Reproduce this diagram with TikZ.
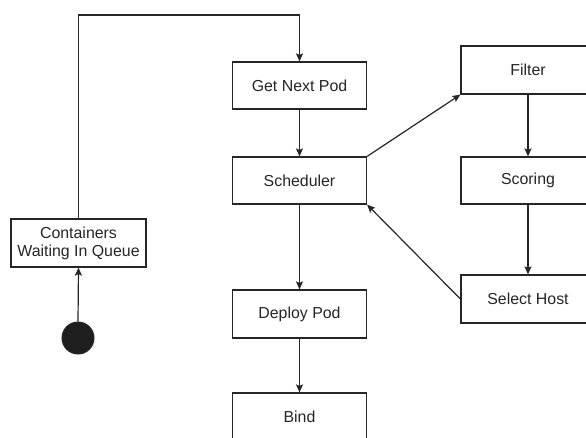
\documentclass[tikz,border=0pt]{standalone}
\usepackage{fontspec}
\setmainfont{Liberation Sans}
\usetikzlibrary{arrows.meta}
\definecolor{ink}{RGB}{38,38,38}
\definecolor{dot}{RGB}{30,30,30}
\begin{document}
\begin{tikzpicture}[x=1pt,y=-1pt,
  stepbox/.style={draw=ink,line width=1.2pt,rectangle,inner sep=0pt,
    minimum width=134pt,minimum height=47pt,font=\fontsize{15.9}{18}\selectfont,
    align=center,text=ink},
  flow/.style={draw=ink,line width=1.2pt,-{Stealth[length=8pt,width=7pt,inset=1.5pt]}}]
\clip (0,0) rectangle (586,437);
\fill[white] (0,0) rectangle (586,437);

% main pipeline
\node[stepbox] (getnext) at (299.5,85.5) {Get Next Pod};
\node[stepbox] (sched) at (299.5,180.5) {Scheduler};
\node[stepbox,minimum height=48pt] (deploy) at (299.5,314) {Deploy Pod};
\node[stepbox,minimum height=48pt] (bind) at (299.5,417) {Bind};

% scheduling cycle
\node[stepbox,minimum height=48pt] (filter) at (528,70) {Filter};
\node[stepbox] (scoring) at (528,180.5) {Scoring};
\node[stepbox,minimum height=48pt] (select) at (528,299) {Select Host};

% queue and start point
\node[stepbox,minimum width=135pt,minimum height=48pt] (queue) at (78.5,243) {Containers\\Waiting In Queue};
\node[circle,draw=ink,fill=dot,line width=1pt,minimum size=32pt,inner sep=0pt] (start) at (78,338) {};
\coordinate (top) at (190,15);

% connectors
\draw[flow] (start.north) -- (queue.south);
\draw[flow] (queue.north) |- (top) -| (getnext.north);
\draw[flow] (getnext.south) -- (sched.north);
\draw[flow] (sched.north east) -- (filter.south west);
\draw[flow] (filter.south) -- (scoring.north);
\draw[flow] (scoring.south) -- (select.north);
\draw[flow] (select.west) -- (sched.south east);
\draw[flow] (sched.south) -- (deploy.north);
\draw[flow] (deploy.south) -- (bind.north);
\end{tikzpicture}
\end{document}
